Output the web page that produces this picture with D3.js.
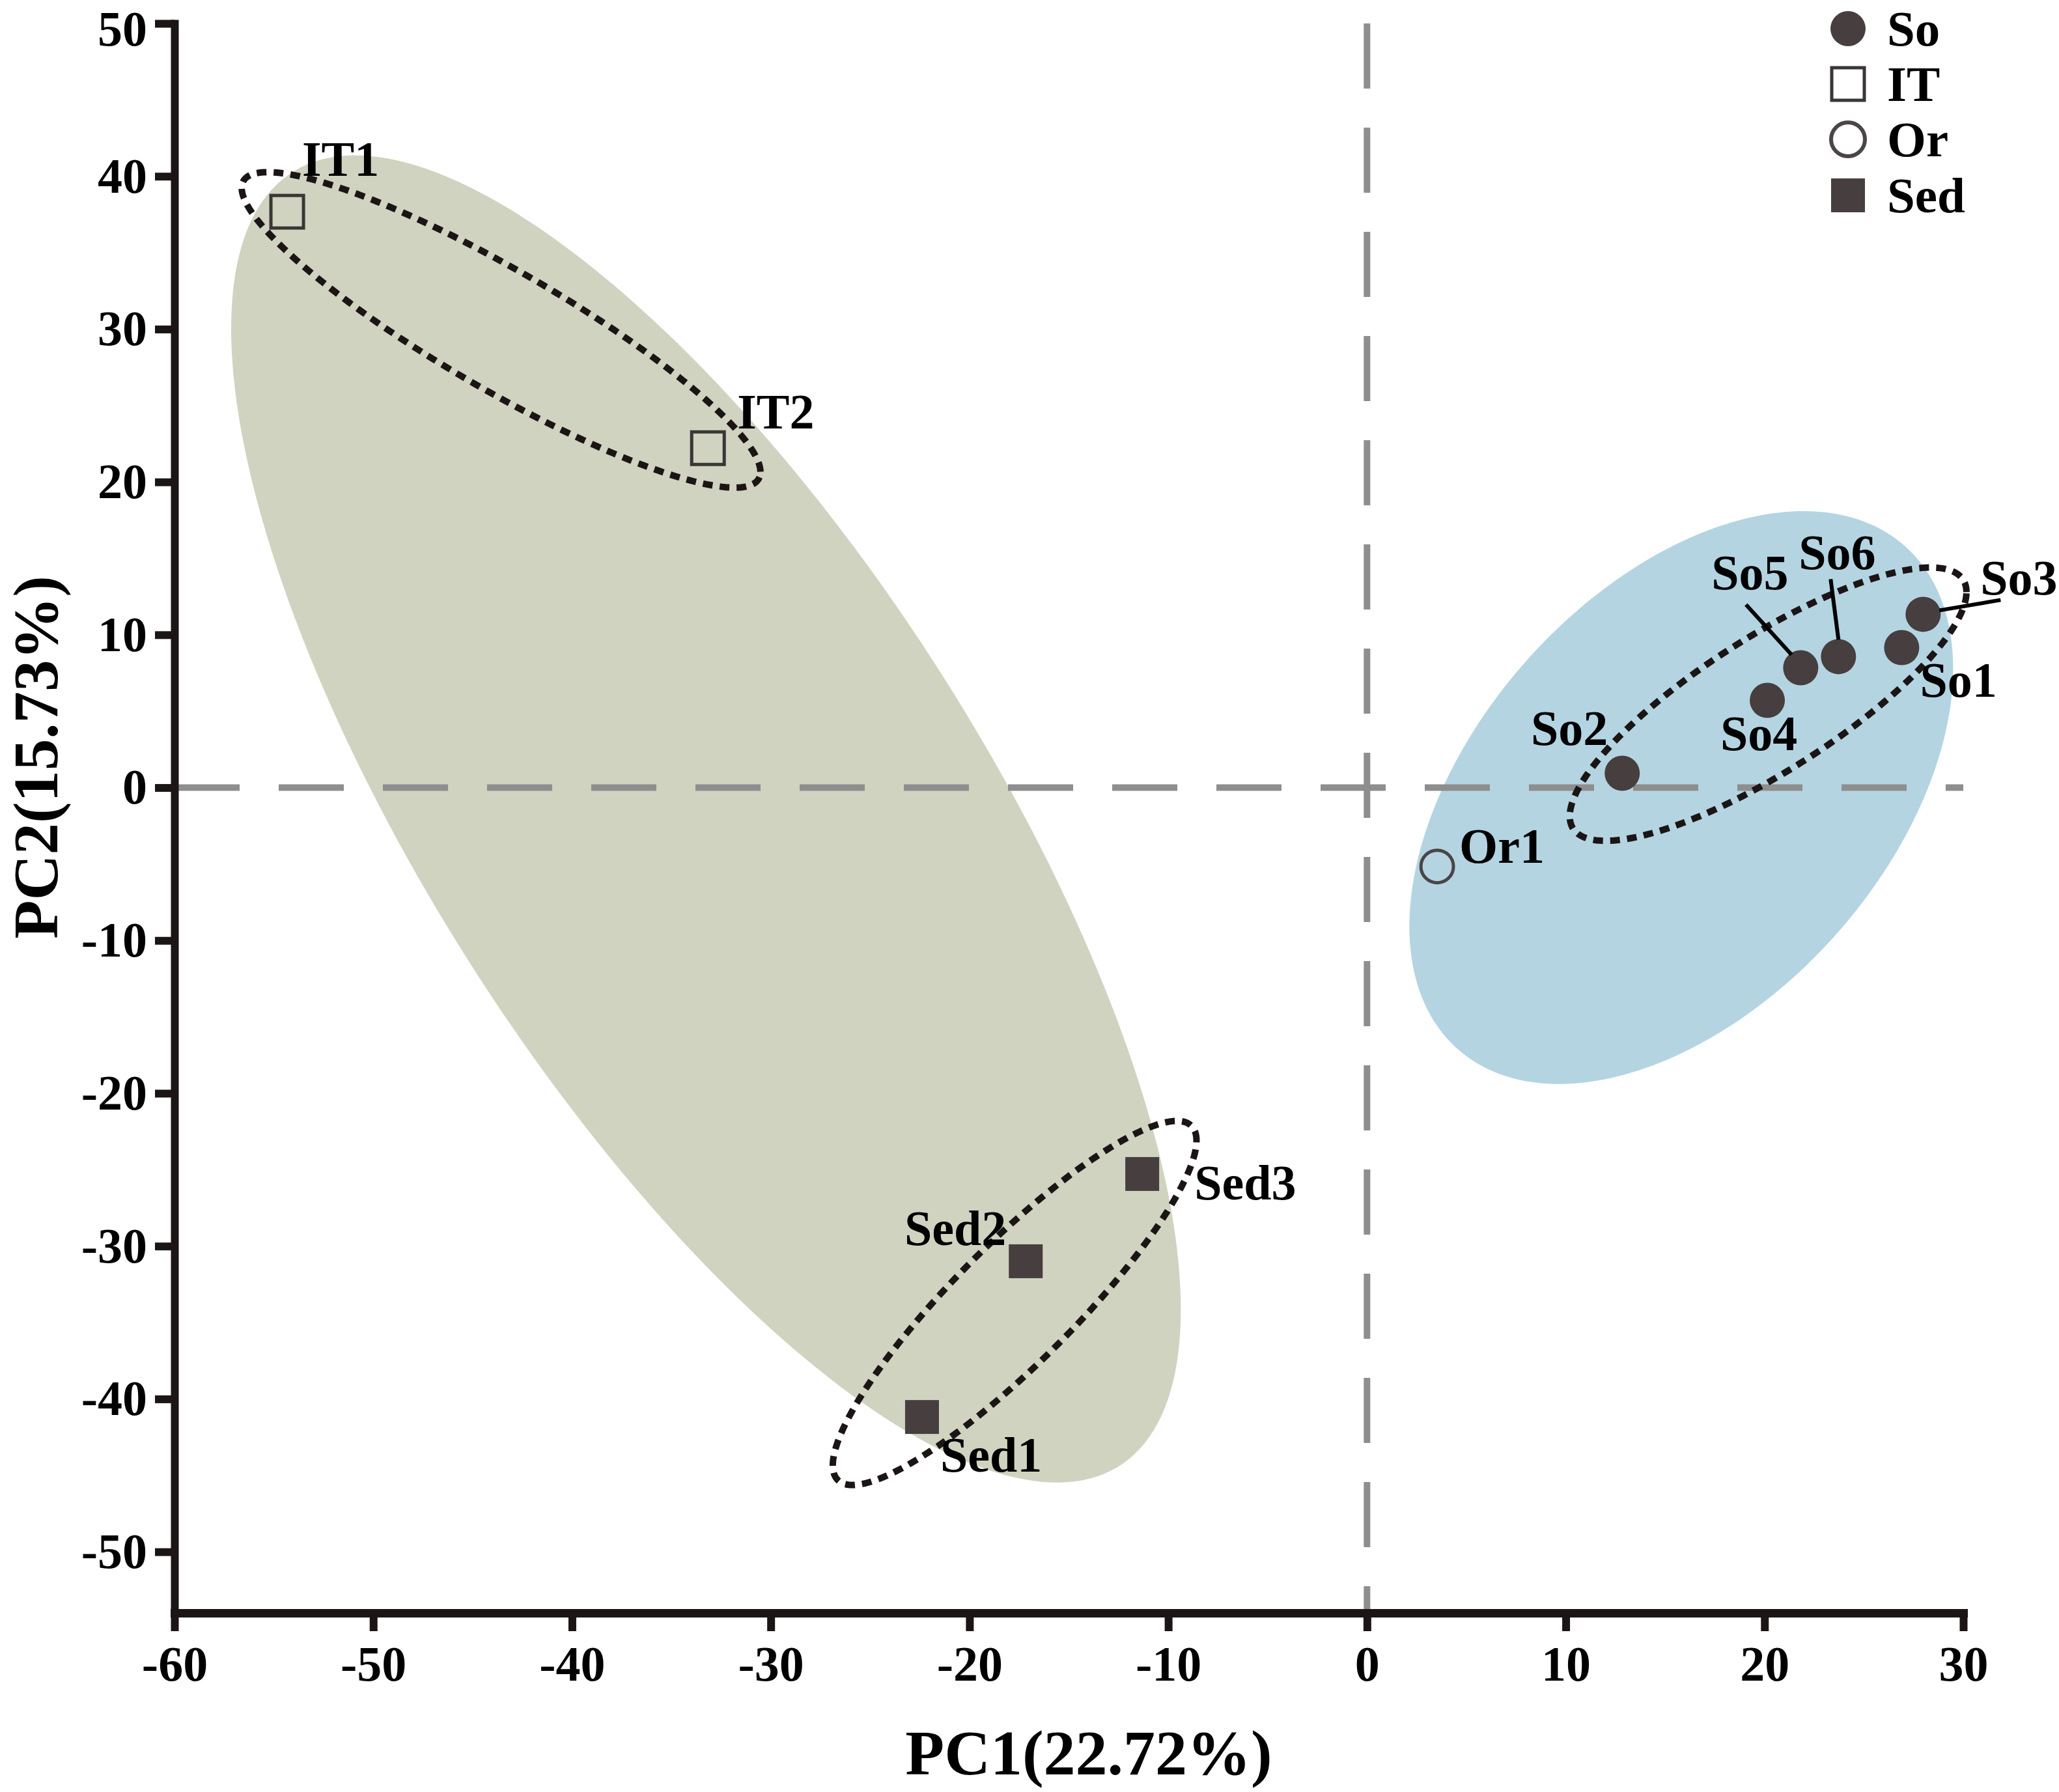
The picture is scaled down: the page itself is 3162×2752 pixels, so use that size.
<!DOCTYPE html>
<html>
<head>
<meta charset="utf-8">
<script src="https://cdn.jsdelivr.net/npm/d3@7"></script>
<style>
  body { margin: 0; background: #fff; }
  text { font-family: "Liberation Serif", "Times New Roman", serif; font-weight: bold; fill: #000; }
</style>
</head>
<body>
<script>
// sample scores
var sampleNames = ["IT1", "IT2", "Sed1", "Sed2", "Sed3", "Or1", "So1", "So2", "So3", "So4", "So5", "So6"];
var sampleGroup = ["IT", "IT", "Sed", "Sed", "Sed", "Or", "So", "So", "So", "So", "So", "So"];
var pc1 = [-54.33, -33.16, -22.39, -17.17, -11.31, 3.53, 26.9, 12.84, 27.98, 20.14, 21.82, 23.72];
var pc2 = [37.68, 22.21, -41.18, -30.99, -25.28, -5.16, 9.16, 0.94, 11.34, 5.71, 7.84, 8.57];

var groups = ["So", "IT", "Or", "Sed"];

// shaded ellipses (centre, half extents, correlation)
var fillCx = [-33.26, 15.81];
var fillCy = [-2.05, -0.65];
var fillRx = [23.89, 13.68];
var fillRy = [43.42, 18.74];
var fillRho = [-0.739, 0.45];

// dotted ellipses: IT, Sed, So
var dotCx = [-43.57, -17.73, 20.18];
var dotCy = [29.95, -33.72, 5.46];
var dotRx = [13.05, 9.15, 9.98];
var dotRy = [10.32, 11.91, 8.94];
var dotRho = [-0.9, 0.892, 0.82];

var xTicks = [-60, -50, -40, -30, -20, -10, 0, 10, 20, 30];
var yTicks = [-50, -40, -30, -20, -10, 0, 10, 20, 30, 40, 50];
var xTitle = "PC1(22.72%)";
var yTitle = "PC2(15.73%)";

// label placement, pixels from the point
var labelPos = {
  IT1: { dx: 23, dy: -55, a: "start" },
  IT2: { dx: 45, dy: -30, a: "start" },
  Sed1: { dx: 28, dy: 84, a: "start" },
  Sed2: { dx: -30, dy: -25, a: "end" },
  Sed3: { dx: 80, dy: 39, a: "start" },
  Or1: { dx: 34, dy: -6, a: "start" },
  So1: { dx: 28, dy: 75, a: "start" },
  So2: { dx: -22, dy: -43, a: "end" },
  So3: { dx: 88, dy: -30, a: "start", lead: [25, -6, 119, -22] },
  So4: { dx: -13, dy: 76, a: "middle" },
  So5: { dx: -78, dy: -121, a: "middle", lead: [-14, -20, -84, -97] },
  So6: { dx: -2, dy: -134, a: "middle", lead: [0, -26, -12, -119] }
};

var width = 3162, height = 2752;
var markColor = "#463e3f", edgeColor = "#1c1515";

var svg = d3.select("body").append("svg")
    .attr("width", width)
    .attr("height", height);

var x = d3.scaleLinear().domain([-60, 30]).range([268, 3015]);
var y = d3.scaleLinear().domain([-54, 50]).range([2477, 36]);

function ellipsePts(cx, cy, rx, ry, rho) {
  var pts = [], s = Math.sqrt(1 - rho * rho);
  for (var i = 0; i < 240; i++) {
    var t = i / 240 * 2 * Math.PI;
    pts.push([x(cx + rx * Math.cos(t)), y(cy + ry * (rho * Math.cos(t) + s * Math.sin(t)))]);
  }
  return pts;
}
var ring = d3.line().curve(d3.curveLinearClosed);

var fillColors = ["#cfd3c0", "#b4d4e2"];
fillCx.forEach(function(c, i) {
  svg.append("path")
      .attr("d", ring(ellipsePts(c, fillCy[i], fillRx[i], fillRy[i], fillRho[i])))
      .attr("fill", fillColors[i]);
});

// dashed zero lines
svg.append("line")
    .attr("x1", x(-60)).attr("x2", x(30))
    .attr("y1", y(0)).attr("y2", y(0))
    .attr("stroke", "#8e8e8e").attr("stroke-width", 10)
    .attr("stroke-dasharray", "100 60");
svg.append("line")
    .attr("x1", x(0)).attr("x2", x(0))
    .attr("y1", y(50)).attr("y2", y(-54))
    .attr("stroke", "#8e8e8e").attr("stroke-width", 10)
    .attr("stroke-dasharray", "100 60");

dotCx.forEach(function(c, i) {
  svg.append("path")
      .attr("d", ring(ellipsePts(c, dotCy[i], dotRx[i], dotRy[i], dotRho[i])))
      .attr("fill", "none")
      .attr("stroke", edgeColor)
      .attr("stroke-width", 10)
      .attr("stroke-dasharray", "15 11");
});

function drawMark(g, grp, cxp, cyp, big) {
  if (grp === "So") {
    g.append("circle").attr("cx", cxp).attr("cy", cyp).attr("r", 27).attr("fill", markColor);
  } else if (grp === "Or") {
    g.append("circle").attr("cx", cxp).attr("cy", cyp).attr("r", big ? 26 : 25)
        .attr("fill", "none").attr("stroke", "#4a4546").attr("stroke-width", big ? 6 : 5);
  } else if (grp === "IT") {
    g.append("rect").attr("x", cxp - 25).attr("y", cyp - 25).attr("width", 50).attr("height", 50)
        .attr("fill", "none").attr("stroke", "#3a3636").attr("stroke-width", 5);
  } else {
    g.append("rect").attr("x", cxp - 26).attr("y", cyp - 26).attr("width", 52).attr("height", 52)
        .attr("fill", markColor);
  }
}

var pts = svg.append("g");
sampleNames.forEach(function(n, i) {
  drawMark(pts, sampleGroup[i], x(pc1[i]), y(pc2[i]), false);
});

var labels = svg.append("g");
sampleNames.forEach(function(n, i) {
  var p = labelPos[n], px = x(pc1[i]), py = y(pc2[i]);
  if (p.lead) {
    labels.append("line")
        .attr("x1", px + p.lead[0]).attr("y1", py + p.lead[1])
        .attr("x2", px + p.lead[2]).attr("y2", py + p.lead[3])
        .attr("stroke", "#000").attr("stroke-width", 6);
  }
  labels.append("text")
      .attr("x", px + p.dx).attr("y", py + p.dy)
      .attr("text-anchor", p.a)
      .style("font-size", "76px")
      .text(n);
});

// axes
var xAxis = d3.axisBottom(x).tickValues(xTicks).tickSize(28).tickSizeOuter(0)
    .tickPadding(22).tickFormat(function(d) { return String(d); });
var yAxis = d3.axisLeft(y).tickValues(yTicks).tickSize(30).tickSizeOuter(0)
    .tickPadding(12).tickFormat(function(d) { return String(d); });

var gx = svg.append("g").attr("transform", "translate(0," + y(-54) + ")").call(xAxis);
var gy = svg.append("g").attr("transform", "translate(" + x(-60) + ",0)").call(yAxis);

[gx, gy].forEach(function(g) {
  g.select(".domain").attr("stroke", edgeColor).attr("stroke-width", 12).attr("stroke-linecap", "square");
  g.selectAll(".tick line").attr("stroke", edgeColor).attr("stroke-width", 12);
  g.selectAll(".tick text")
      .style("font-size", "76px")
      .style("font-family", "'Liberation Serif', 'Times New Roman', serif")
      .style("font-weight", "bold")
      .attr("fill", "#000");
});
gx.select(".domain").attr("stroke-width", 13);
// keep the top label inside the page
gy.selectAll(".tick text").filter(function(d) { return d === 50; }).attr("dy", "0.44em");

svg.append("text")
    .attr("x", 1672).attr("y", 2725)
    .attr("text-anchor", "middle")
    .style("font-size", "98px")
    .text(xTitle);

svg.append("text")
    .attr("transform", "translate(88,1163) rotate(-90)")
    .attr("text-anchor", "middle")
    .style("font-size", "97px")
    .text(yTitle);

// legend
var legend = svg.append("g");
var legendY = [44, 129, 214, 300];
groups.forEach(function(grp, i) {
  drawMark(legend, grp, 2838, legendY[i], true);
  legend.append("text")
      .attr("x", 2898).attr("y", legendY[i] + 26)
      .style("font-size", "77px")
      .text(grp);
});
</script>
</body>
</html>
